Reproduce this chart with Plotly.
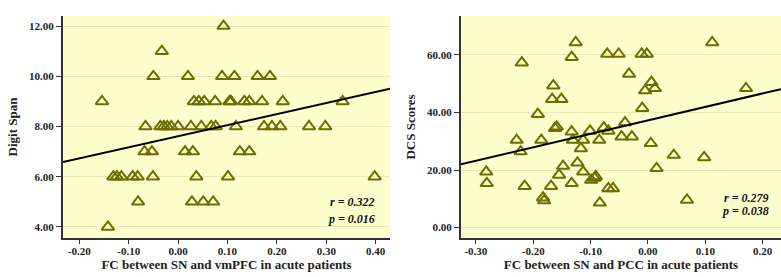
import plotly.graph_objects as go

# ---------------- data ----------------
# Left panel: FC between SN and vmPFC vs Digit Span
vmpfc_fc = [0.092, -0.033,
            -0.050, 0.020, 0.089, 0.114, 0.161, 0.186,
            -0.154, 0.032, 0.042, 0.053, 0.075, 0.104, 0.107, 0.134, 0.144, 0.170, 0.212, 0.333,
            -0.066, -0.036, -0.029, -0.022, -0.014, 0.026, 0.047, 0.067, 0.076, 0.117, 0.174, 0.190, 0.207, 0.265, 0.298,
            -0.068, -0.053, 0.014, 0.030, 0.125, 0.144,
            -0.131, -0.124, -0.115, -0.092, -0.082, -0.051, 0.037, 0.101, 0.398,
            -0.081, 0.028, 0.051, 0.071,
            -0.142, 0.000]
digit_span = [12, 11,
              10, 10, 10, 10, 10, 10,
              9, 9, 9, 9, 9, 9, 9, 9, 9, 9, 9, 9,
              8, 8, 8, 8, 8, 8, 8, 8, 8, 8, 8, 8, 8, 8, 8,
              7, 7, 7, 7, 7, 7,
              6, 6, 6, 6, 6, 6, 6, 6, 6,
              5, 5, 5, 5,
              4, 8]
left_fit = {"intercept": 7.61, "slope": 4.41}
left_stats = ["r = 0.322", "p = 0.016"]

# Right panel: FC between SN and PCC vs DCS Scores
pcc_fc = [-0.126, -0.220, -0.133, -0.071, -0.051, -0.011, -0.002, 0.112, -0.033, -0.165,
          0.006, -0.005, 0.012, 0.171, -0.167, -0.151, -0.192, -0.010, -0.162, -0.159,
          -0.133, -0.101, -0.077, -0.069, -0.040, -0.229, -0.222, -0.186, -0.131, -0.113,
          -0.117, -0.085, -0.046, -0.028, 0.005, 0.045, 0.098, 0.015, -0.282, -0.281,
          -0.215, -0.169, -0.155, -0.148, -0.133, -0.123, -0.113, -0.099, -0.093, -0.091,
          -0.183, -0.181, -0.084, -0.069, -0.061, 0.068]
dcs_scores = [64.3, 57.3, 59.2, 60.3, 60.3, 60.3, 60.3, 64.3, 53.4, 49.3,
              50.5, 47.6, 48.4, 48.4, 44.6, 44.6, 39.4, 41.5, 34.5, 35.0,
              33.3, 33.6, 34.7, 33.6, 36.5, 30.4, 26.4, 30.4, 30.4, 30.4,
              27.5, 30.4, 31.6, 31.6, 29.3, 25.2, 24.4, 20.6, 19.4, 15.4,
              14.4, 14.4, 18.3, 21.4, 15.4, 22.5, 19.4, 16.5, 17.2, 17.8,
              10.4, 9.4, 8.6, 13.6, 13.6, 9.6]
right_fit = {"intercept": 37.25, "slope": 46.8}
right_stats = ["r = 0.279", "p = 0.038"]

left_xticks = [-0.2, -0.1, 0.0, 0.1, 0.2, 0.3, 0.4]
left_xticklabels = ["-0.20", "-0.10", "0.00", "0.10", "0.20", "0.30", "0.40"]
left_yticks = [4, 6, 8, 10, 12]
left_yticklabels = ["4.00", "6.00", "8.00", "10.00", "12.00"]
right_xticks = [-0.3, -0.2, -0.1, 0.0, 0.1, 0.2]
right_xticklabels = ["-0.30", "-0.20", "-0.10", "0.00", "0.10", "0.20"]
right_yticks = [0, 20, 40, 60]
right_yticklabels = ["0.00", "20.00", "40.00", "60.00"]

# ---------------- styling ----------------
W, H = 781, 277
FONT = "Liberation Serif"
MARK = "#6E6E00"
BG = "#FEFECD"
GRID = "#EBE6B5"

left_xr = [-0.233, 0.429]
left_yr = [3.56, 12.4]
right_xr = [-0.326, 0.232]
right_yr = [-3.6, 73.5]


def bold(labels):
    return ["<b>" + t + "</b>" for t in labels]


fig = go.Figure()

fig.add_trace(go.Scatter(x=vmpfc_fc, y=digit_span, mode="markers",
                         marker=dict(symbol="triangle-up-open", size=11, color=MARK,
                                     line=dict(width=2, color=MARK)),
                         xaxis="x", yaxis="y", showlegend=False, cliponaxis=False))
fig.add_trace(go.Scatter(x=left_xr,
                         y=[left_fit["intercept"] + left_fit["slope"] * v for v in left_xr],
                         mode="lines", line=dict(color="black", width=2),
                         xaxis="x", yaxis="y", showlegend=False))

fig.add_trace(go.Scatter(x=pcc_fc, y=dcs_scores, mode="markers",
                         marker=dict(symbol="triangle-up-open", size=11, color=MARK,
                                     line=dict(width=2, color=MARK)),
                         xaxis="x2", yaxis="y2", showlegend=False, cliponaxis=False))
fig.add_trace(go.Scatter(x=right_xr,
                         y=[right_fit["intercept"] + right_fit["slope"] * v for v in right_xr],
                         mode="lines", line=dict(color="black", width=2),
                         xaxis="x2", yaxis="y2", showlegend=False))

ydom = [1 - 238 / H, 1 - 16 / H]
tickfont = dict(family=FONT, size=11, color="#222222")
titlefont = dict(family=FONT, size=13, color="#222222")

common_x = dict(showgrid=False, zeroline=False, showline=True, linecolor="#333333", linewidth=2,
                ticks="outside", ticklen=4, tickwidth=1, tickcolor="#333333",
                ticklabelstandoff=-2,
                tickfont=tickfont, title_font=titlefont, title_standoff=2, fixedrange=True)
common_y = dict(showgrid=True, gridcolor=GRID, gridwidth=1, zeroline=False, showline=True,
                linecolor="#333333", linewidth=2, ticks="outside", ticklen=5, tickwidth=1,
                tickcolor="#333333", tickfont=tickfont, title_font=titlefont, fixedrange=True)

fig.update_layout(
    width=W, height=H, margin=dict(l=0, r=0, t=0, b=0),
    paper_bgcolor="white", plot_bgcolor=BG,
    xaxis=dict(domain=[63 / W, 390 / W], range=left_xr, anchor="y",
               tickvals=left_xticks, ticktext=bold(left_xticklabels),
               title_text="<b>FC between SN and vmPFC in acute patients</b>", **common_x),
    yaxis=dict(domain=ydom, range=left_yr, anchor="x",
               tickvals=left_yticks, ticktext=bold(left_yticklabels),
               title_text="<b>Digit Span</b>", title_standoff=8, **common_y),
    xaxis2=dict(domain=[461 / W, 1.0], range=right_xr, anchor="y2",
                tickvals=right_xticks, ticktext=bold(right_xticklabels),
                title_text="<b>FC between SN and PCC in acute patients</b>", **common_x),
    yaxis2=dict(domain=ydom, range=right_yr, anchor="x2",
                tickvals=right_yticks, ticktext=bold(right_yticklabels),
                title_text="<b>DCS Scores</b>", title_standoff=8, **common_y),
)

statfont = dict(family=FONT, size=12, color="#111111")
for i, txt in enumerate(left_stats):
    fig.add_annotation(x=0.96, y=[0.162, 0.086][i], xref="x domain", yref="y domain",
                       text="<b><i>" + txt + "</i></b>", showarrow=False,
                       xanchor="right", yanchor="middle", font=statfont)
for i, txt in enumerate(right_stats):
    fig.add_annotation(x=0.97, y=[0.179, 0.122][i], xref="x2 domain", yref="y2 domain",
                       text="<b><i>" + txt + "</i></b>", showarrow=False,
                       xanchor="right", yanchor="middle", font=statfont)

fig.write_html("out.html", config={"displayModeBar": False},
               post_script="document.body.style.margin='0';document.body.style.overflow='hidden';")
